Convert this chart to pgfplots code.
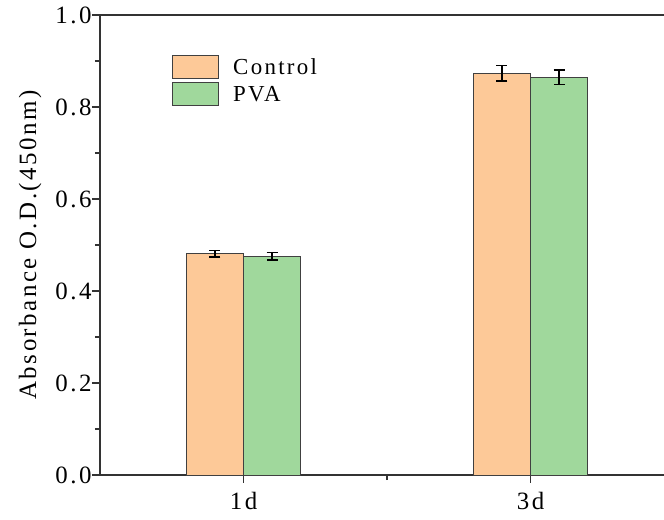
\documentclass[border=0pt]{standalone}
\usepackage{fontspec}
\setmainfont{Liberation Serif}[LetterSpace=10]
\usepackage{pgfplots}
\pgfplotsset{compat=1.18}
\definecolor{ctrl}{HTML}{FDC998}
\definecolor{pva}{HTML}{A0D89C}
\begin{document}
\begin{tikzpicture}
\begin{axis}[
  scale only axis, width=564bp, height=460bp,
  xmin=0, xmax=3.93, ymin=0, ymax=1,
  axis x line*=bottom, axis y line*=left,
  axis line style={line width=1.2bp, black!80},
  xtick={1,3}, xticklabels={1d,3d}, minor xtick={2},
  ytick={0,0.2,0.4,0.6,0.8,1.0}, minor ytick={0.1,0.3,0.5,0.7,0.9},
  tick align=outside, major tick length=8bp, minor tick length=5bp,
  tick style={line width=1.2bp, black!80},
  yticklabel style={/pgf/number format/fixed, /pgf/number format/fixed zerofill, /pgf/number format/precision=1, xshift=3bp},
  xticklabel style={yshift=-6bp},
  /pgf/number format/assume math mode=true,
  ticklabel style={font=\fontsize{25}{30}\selectfont},
  ylabel={Absorbance O.D.(450nm)},
  every axis y label/.style={at={(axis description cs:-0.124,0.5)}, rotate=90, anchor=center, font=\fontsize{25}{30}\selectfont},
  legend style={at={(0.1277,0.913)}, anchor=north west, draw=none, fill=none,
    font=\fontsize{23}{25}\selectfont, row sep=3bp, inner sep=0pt,
    /tikz/every odd column/.append style={column sep=12bp}},
  legend cell align=left,
  legend image code/.code={\draw[#1, line width=1bp] (0bp,-11.5bp) rectangle (46bp,11.5bp);},
]
\addplot[ybar, bar width=0.4, fill=ctrl, draw=black!75, line width=1bp,
  error bars/.cd, y dir=both, y explicit,
  error bar style={line width=1.6bp, black},
  error mark options={rotate=90, mark size=5.5bp, line width=1.6bp, black}]
  coordinates {(0.8,0.481) +- (0,0.007) (2.8,0.873) +- (0,0.017)};
\addlegendentry{Control}
\addplot[ybar, bar width=0.4, fill=pva, draw=black!75, line width=1bp,
  error bars/.cd, y dir=both, y explicit,
  error bar style={line width=1.6bp, black},
  error mark options={rotate=90, mark size=5.5bp, line width=1.6bp, black}]
  coordinates {(1.2,0.476) +- (0,0.008) (3.2,0.865) +- (0,0.016)};
\addlegendentry{PVA}
\draw[line width=1.2bp, black!80] (rel axis cs:0,1) -- (rel axis cs:1.02,1);
\end{axis}
\pgfresetboundingbox
\path[use as bounding box] (-100bp,-45bp) rectangle (564bp,475bp);
\end{tikzpicture}
\end{document}
